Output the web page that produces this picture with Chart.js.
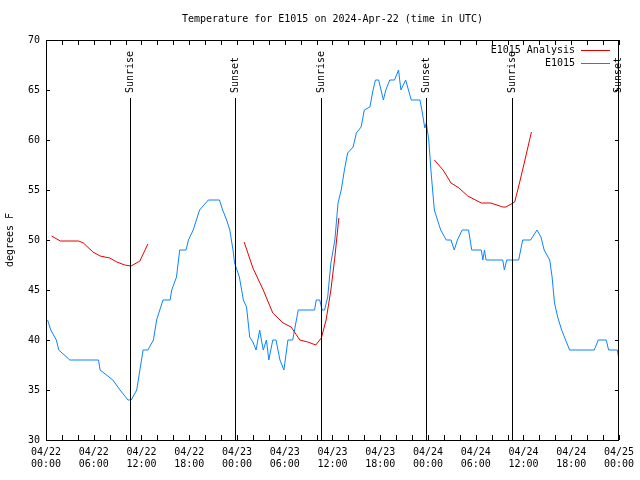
<!DOCTYPE html>
<html>
<head>
<meta charset="utf-8">
<script src="https://cdn.jsdelivr.net/npm/chart.js@4"></script>
<style>
  html, body { margin: 0; padding: 0; background: #fff; }
  #wrap { width: 640px; height: 480px; }
</style>
</head>
<body>
<div id="wrap"><canvas id="tempChart" width="640" height="480"></canvas></div>
<script>
// --- data (hours since 04/22 00:00 UTC) ---
const obsHours = [0.2, 0.6, 1.3, 1.6, 3.0, 6.6, 6.8, 8.4, 9.3, 10.3, 10.7, 11.4, 11.8, 12.2, 12.8, 13.5, 13.9, 14.3, 14.7, 15.6, 15.8, 16.4, 16.8, 17.6, 17.9, 18.5, 18.9, 19.3, 20.4, 21.8, 22.2, 22.7, 23.1, 23.5, 23.7,
  24.3, 24.8, 25.2, 25.6, 26.0, 26.4, 26.85, 27.3, 27.7, 28.0, 28.5, 28.9, 29.4, 29.9, 30.4, 31.0, 31.7, 33.75, 33.96, 34.4, 34.7, 35.0, 35.4, 35.8, 36.3, 36.7, 37.1, 37.5, 37.9, 38.6, 39.0, 39.6, 40.0, 40.7, 41.1, 41.4, 41.8, 42.4, 42.7, 43.2, 43.8, 44.3, 44.6, 45.2, 45.9,
  47.0, 47.3, 47.6, 47.8, 48.1, 48.4, 48.8, 49.2, 49.6, 50.3, 50.9, 51.3, 51.7, 52.3, 53.1, 53.5, 54.7, 54.9, 55.1, 55.3, 57.4, 57.6, 57.9, 59.4, 59.9, 60.9, 61.7, 62.2, 62.6, 63.3, 63.6, 63.9, 64.3, 64.8, 65.3, 65.8, 68.9, 69.4, 70.4, 70.7, 71.8, 72.0];
const obsTemps = [42, 41, 40, 39, 38, 38, 37, 36, 35, 34, 34, 35, 37, 39, 39, 40, 42, 43, 44, 44, 45, 46.3, 49, 49, 50, 51, 52, 53, 54, 54, 53, 52, 51, 49, 47.7,
  46.3, 44, 43.3, 40.3, 39.8, 39, 41, 39, 40, 38, 40, 40, 38, 37, 40, 40, 43, 43, 44, 44, 43, 43, 44.3, 47.7, 50, 53.7, 55, 57, 58.7, 59.3, 60.7, 61.3, 63, 63.3, 65, 66, 66, 64, 65, 66, 66, 67, 65, 66, 64,
  64, 62.7, 61.2, 61.7, 60, 56.7, 53, 52, 51, 50, 50, 49, 50, 51, 51, 49, 49, 48, 49, 48, 48, 47, 48, 48, 50, 50, 51, 50.3, 49, 48, 46.3, 43.7, 42.3, 41, 40, 39, 39, 40, 40, 39, 39, 38];

// analysis series, null = gap between runs
const anaHours = [0.7, 1.8, 4.1, 4.7, 5.9, 6.8, 8.0, 8.9, 9.9, 10.7, 11.8, 12.8, 18,
  24.9, 26.0, 27.3, 28.5, 29.8, 30.8, 31.9, 32.9, 33.9, 34.6, 35.2, 35.8, 36.3, 36.8, 42,
  48.8, 49.9, 50.9, 51.9, 53.0, 54.7, 55.9, 57.4, 57.8, 58.9, 59.5, 60.1, 61.0];
const anaTemps = [50.4, 49.9, 49.9, 49.7, 48.8, 48.4, 48.2, 47.8, 47.5, 47.4, 47.9, 49.6, null,
  49.8, 47.2, 45, 42.7, 41.7, 41.3, 40, 39.8, 39.5, 40.2, 42, 45, 48.3, 52.2, null,
  58, 57, 55.7, 55.2, 54.4, 53.7, 53.7, 53.3, 53.3, 53.8, 55.7, 57.7, 60.8];

const sunHours = [10.5, 23.7, 34.5, 47.8, 58.6, 71.9];
const sunLabels = ["Sunrise", "Sunset", "Sunrise", "Sunset", "Sunrise", "Sunset"];

const xTickDates = ["04/22", "04/22", "04/22", "04/22", "04/23", "04/23", "04/23", "04/23", "04/24", "04/24", "04/24", "04/24", "04/25"];
const xTickTimes = ["00:00", "06:00", "12:00", "18:00", "00:00", "06:00", "12:00", "18:00", "00:00", "06:00", "12:00", "18:00", "00:00"];

const MONO = "'DejaVu Sans Mono', monospace";
const RED = '#e60000';
const BLUE = '#0a84ff';

// gnuplot-like frame, inward tics, sun markers and key
const gnuplotDecor = {
    id: 'gnuplotDecor',
    afterDatasetsDraw(chart) {
        const { ctx, chartArea: a, scales: { x, y } } = chart;
        ctx.save();
        ctx.strokeStyle = '#000';
        ctx.lineWidth = 1;

        // sun lines with rotated labels
        ctx.font = `10px ${MONO}`;
        ctx.fillStyle = '#000';
        sunHours.forEach((h, i) => {
            const px = Math.round(x.getPixelForValue(h)) + 0.5;
            ctx.beginPath();
            ctx.moveTo(px, 98);
            ctx.lineTo(px, a.bottom);
            ctx.stroke();
            ctx.save();
            ctx.translate(px, 93);
            ctx.rotate(-Math.PI / 2);
            ctx.textAlign = 'left';
            ctx.textBaseline = 'middle';
            ctx.fillText(sunLabels[i], 0, 0);
            ctx.restore();
        });

        // tics
        ctx.beginPath();
        for (let h = 0; h <= 72; h += 2) {
            const px = Math.round(x.getPixelForValue(h)) + 0.5;
            const len = 5;
            ctx.moveTo(px, a.bottom); ctx.lineTo(px, a.bottom - len);
            ctx.moveTo(px, a.top); ctx.lineTo(px, a.top + len);
        }
        y.ticks.forEach(t => {
            const py = Math.round(y.getPixelForValue(t.value)) + 0.5;
            ctx.moveTo(a.left, py); ctx.lineTo(a.left + 4, py);
            ctx.moveTo(a.right, py); ctx.lineTo(a.right - 4, py);
        });
        ctx.stroke();

        // frame
        ctx.strokeRect(Math.round(a.left) + 0.5, Math.round(a.top) + 0.5,
                       Math.round(a.right - a.left) - 1, Math.round(a.bottom - a.top));

        // key
        const keys = [{ text: 'E1015 Analysis', color: RED }, { text: 'E1015', color: BLUE }];
        ctx.font = `10px ${MONO}`;
        ctx.textAlign = 'right';
        ctx.textBaseline = 'middle';
        keys.forEach((k, i) => {
            const ky = 50 + i * 13;
            ctx.fillStyle = '#000';
            ctx.fillText(k.text, 575, ky);
            ctx.strokeStyle = k.color;
            ctx.beginPath();
            ctx.moveTo(581, ky + 0.5);
            ctx.lineTo(610, ky + 0.5);
            ctx.stroke();
        });
        ctx.restore();
    }
};

new Chart(document.getElementById('tempChart'), {
    type: 'line',
    data: {
        datasets: [
            {
                label: 'E1015 Analysis',
                data: anaHours.map((h, i) => ({ x: h, y: anaTemps[i] })),
                borderColor: RED,
                borderWidth: 1,
                pointRadius: 0,
                tension: 0,
                spanGaps: false
            },
            {
                label: 'E1015',
                data: obsHours.map((h, i) => ({ x: h, y: obsTemps[i] })),
                borderColor: BLUE,
                borderWidth: 1,
                pointRadius: 0,
                tension: 0
            }
        ]
    },
    options: {
        responsive: false,
        animation: false,
        events: [],
        layout: { padding: { left: 0, right: 20, top: 0, bottom: 0 } },
        plugins: {
            legend: { display: false },
            tooltip: { enabled: false },
            title: {
                display: true,
                fullSize: false,
                text: 'Temperature for E1015 on 2024-Apr-22 (time in UTC)',
                color: '#000',
                font: { family: MONO, size: 10, weight: 'normal' },
                padding: { top: 13, bottom: 15 }
            }
        },
        scales: {
            x: {
                type: 'linear',
                min: 0,
                max: 72,
                grid: { display: false, drawTicks: false },
                border: { display: false },
                ticks: {
                    stepSize: 6,
                    autoSkip: false,
                    maxRotation: 0,
                    padding: 6,
                    color: '#000',
                    font: { family: MONO, size: 10 },
                    callback: (v) => {
                        const i = Math.round(v / 6);
                        return [xTickDates[i], xTickTimes[i]];
                    }
                },
                afterFit: (s) => { s.height = 40; }
            },
            y: {
                min: 30,
                max: 70,
                grid: { display: false, drawTicks: false },
                border: { display: false },
                ticks: {
                    stepSize: 5,
                    padding: 6,
                    color: '#000',
                    font: { family: MONO, size: 10 }
                },
                title: {
                    display: true,
                    text: 'degrees F',
                    color: '#000',
                    font: { family: MONO, size: 10 },
                    padding: { top: 4, bottom: 0 }
                },
                afterFit: (s) => { s.width = 46; }
            }
        }
    },
    plugins: [gnuplotDecor]
});
</script>
</body>
</html>
